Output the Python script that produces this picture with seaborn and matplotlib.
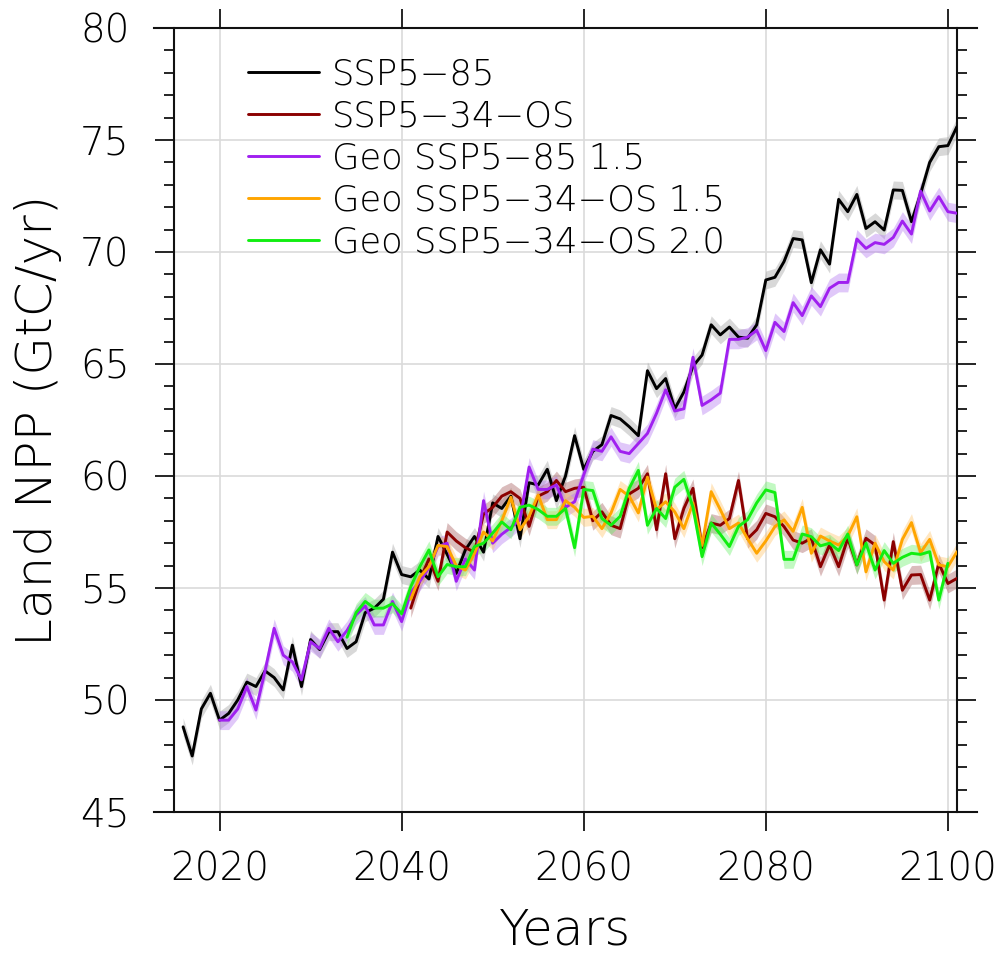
import matplotlib
matplotlib.use("Agg")
import matplotlib.pyplot as plt
import seaborn as sns
import pandas as pd
from matplotlib.ticker import MultipleLocator

# ---------------- data ----------------
years_ssp585 = list(range(2016, 2102))
ssp585 = [48.8, 47.5, 49.6, 50.3, 49.1, 49.4, 50.0, 50.8, 50.6, 51.3,
          51.0, 50.45, 52.45, 50.6, 52.7, 52.25, 53.05, 53.05, 52.3, 52.6,
          53.9, 54.1, 54.5, 56.6, 55.6, 55.5, 55.8, 55.4, 57.3, 56.5,
          55.65, 56.7, 57.3, 56.6, 58.8, 58.55, 59.1, 57.2, 59.7, 59.6,
          60.3, 58.9, 60.0, 61.8, 60.3, 61.1, 61.4, 62.7, 62.55, 62.2,
          61.8, 64.7, 63.9, 64.35, 63.0, 63.75, 64.9, 65.4, 66.75, 66.3,
          66.65, 66.2, 66.15, 66.75, 68.75, 68.87, 69.57, 70.6, 70.54, 68.63,
          70.1, 69.46, 72.35, 71.8, 72.57, 71.05, 71.35, 70.98, 72.77, 72.75,
          71.35, 72.6, 74.0, 74.7, 74.75, 75.6]

years_ssp534 = list(range(2041, 2102))
ssp534os = [54.1, 55.35, 56.3, 55.3, 57.5, 57.1, 56.8, 56.6, 58.3, 58.6,
            59.1, 59.3, 59.0, 57.75, 59.1, 59.3, 59.8, 59.3, 59.45, 59.5,
            58.0, 58.4, 57.8, 57.65, 59.2, 59.45, 60.1, 57.6, 60.1, 57.2,
            58.55, 59.45, 56.8, 57.9, 57.8, 58.1, 59.8, 57.2, 57.6, 58.33,
            58.18, 57.74, 57.14, 57.0, 57.22, 55.95, 56.92, 55.95, 57.22, 56.03,
            57.22, 56.92, 54.46, 57.07, 54.9, 55.58, 55.6, 54.46, 56.1, 55.2,
            55.43]

years_geo585 = list(range(2020, 2102))
geo585_15 = [49.1, 49.1, 49.6, 50.6, 49.55, 51.3, 53.2, 52.0, 51.7, 50.9,
             52.6, 52.3, 53.2, 52.6, 53.1, 53.8, 54.2, 53.35, 53.35, 54.4,
             53.5, 54.8, 55.3, 55.9, 56.85, 57.0, 55.3, 56.3, 55.8, 58.9,
             57.0, 57.4, 57.7, 58.05, 60.4, 59.4, 59.4, 59.6, 58.6, 58.85,
             60.05, 61.2, 61.1, 61.75, 61.1, 61.0, 61.45, 61.9, 62.8, 63.85,
             62.9, 63.0, 65.3, 63.15, 63.4, 63.7, 66.1, 66.1, 66.2, 66.5,
             65.6, 66.86, 66.45, 67.74, 67.16, 68.04, 67.56, 68.38, 68.64, 68.64,
             70.58, 70.16, 70.42, 70.34, 70.65, 71.38, 70.8, 72.72, 71.83, 72.47,
             71.8, 71.73]

years_geo534_15 = list(range(2041, 2102))
geo534_15 = [54.5, 55.5, 55.95, 56.9, 56.85, 56.0, 55.8, 56.55, 57.5, 57.1,
             58.0, 59.05, 57.6, 58.2, 59.15, 58.05, 58.05, 58.9, 58.6, 58.15,
             58.2, 57.65, 58.35, 59.4, 59.1, 58.35, 59.95, 58.5, 58.85, 58.4,
             57.65, 58.8, 56.9, 59.3, 58.5, 57.65, 57.9, 57.2, 56.55, 57.1,
             57.74, 58.04, 57.53, 58.6, 56.55, 57.32, 57.1, 56.92, 57.32, 58.18,
             55.72, 57.0, 56.18, 55.8, 57.17, 57.92, 56.58, 57.17, 56.03, 55.95,
             56.62]

years_geo534_20 = list(range(2034, 2101))
geo534_20 = [52.8, 53.9, 54.4, 54.1, 54.1, 54.3, 53.85, 55.05, 55.95, 56.7,
             55.5, 56.05, 55.95, 55.95, 56.85, 57.0, 57.45, 57.95, 57.6, 58.6,
             58.7, 58.5, 58.2, 58.2, 58.55, 56.8, 59.4, 59.35, 58.1, 57.8,
             58.2, 59.45, 60.25, 57.8, 58.55, 58.1, 59.5, 59.85, 58.6, 56.4,
             57.9, 57.4, 56.85, 57.75, 58.05, 58.8, 59.38, 59.26, 56.28, 56.28,
             57.41, 57.29, 56.88, 57.0, 56.67, 57.41, 56.03, 57.0, 55.8, 56.67,
             56.1, 56.37, 56.55, 56.5, 56.62, 54.46, 56.1]

# approximate half-width of the shaded spread for each series
spread = [0.4, 0.42, 0.42, 0.4, 0.4]

labels = ["SSP5\u221285", "SSP5\u221234\u2212OS", "Geo SSP5\u221285 1.5",
          "Geo SSP5\u221234\u2212OS 1.5", "Geo SSP5\u221234\u2212OS 2.0"]
colors = ["#000000", "#8B0000", "#A020F0", "#FFA500", "#11EE11"]
band_colors = ["#9a9a9a", "#a05050", "#b070f0", "#ffc060", "#60f060"]

x_ticks = [2020, 2040, 2060, 2080, 2100]
y_ticks = [45, 50, 55, 60, 65, 70, 75, 80]

series_years = [years_ssp585, years_ssp534, years_geo585, years_geo534_15, years_geo534_20]
series_vals = [ssp585, ssp534os, geo585_15, geo534_15, geo534_20]

frames = []
for lab, yrs, vals in zip(labels, series_years, series_vals):
    frames.append(pd.DataFrame({"Year": yrs, "NPP": vals, "Scenario": lab}))
df = pd.concat(frames, ignore_index=True)

# ---------------- style ----------------
sns.set_theme(style="ticks")
plt.rcParams["font.family"] = ["DejaVu Sans"]
plt.rcParams["font.weight"] = 200
plt.rcParams["axes.labelweight"] = 200
plt.rcParams["text.color"] = "black"

fig = plt.figure(figsize=(10.01, 9.57), dpi=100)
ax = fig.add_axes([0.17383, 0.15152, 0.78222, 0.81923])

# shaded spreads
for lab, col, bc, s in zip(labels, colors, band_colors, spread):
    d = df[df["Scenario"] == lab]
    ax.fill_between(d["Year"], d["NPP"] - s, d["NPP"] + s,
                    color=bc, alpha=0.38, linewidth=0, zorder=2)

sns.lineplot(data=df, x="Year", y="NPP", hue="Scenario", hue_order=labels,
             palette=dict(zip(labels, colors)), linewidth=2.1, ax=ax,
             legend=False, zorder=3)

ax.set_xlim(2015, 2101)
ax.set_ylim(45, 80)
ax.set_xticks(x_ticks)
ax.set_yticks(y_ticks)
ax.yaxis.set_minor_locator(MultipleLocator(1))
ax.grid(True, which="major", color="#dadada", linewidth=1.2, zorder=0)
ax.set_axisbelow(True)

ax.tick_params(axis="both", which="major", direction="out", length=14,
               width=1.2, labelsize=28, colors="black")
ax.tick_params(axis="y", which="major", pad=18, left=True, right=True)
ax.tick_params(axis="y", which="minor", direction="out", length=7, width=1.2,
               left=True, right=True, colors="black")
ax.tick_params(axis="x", which="major", pad=14, top=True, bottom=True)
for lbl in ax.get_xticklabels() + ax.get_yticklabels():
    lbl.set_fontweight(200)

for side in ["left", "right", "top", "bottom"]:
    ax.spines[side].set_visible(True)
    ax.spines[side].set_linewidth(1.5)
    ax.spines[side].set_color("#111111")
ext = 20 / 9.105
ax.spines["bottom"].set_bounds(2015 - ext, 2101 + ext)
ax.spines["top"].set_bounds(2015 - ext, 2101 + ext)

ax.set_xlabel("Years", fontsize=36, labelpad=13, color="black", fontweight=200)
ax.set_ylabel("Land NPP (GtC/yr)", fontsize=36, labelpad=13, color="black",
              fontweight=200)

handles = [plt.Line2D([], [], color=c, linewidth=2.1) for c in colors]
leg = ax.legend(handles, labels, loc="upper left", bbox_to_anchor=(0.076, 0.98),
                frameon=False, handlelength=2.0, handletextpad=0.38,
                labelspacing=0.22, borderaxespad=0, prop={"weight": 200, "size": 25.5})
for t in leg.get_texts():
    t.set_color("black")

fig.savefig("out.png", dpi=100)
